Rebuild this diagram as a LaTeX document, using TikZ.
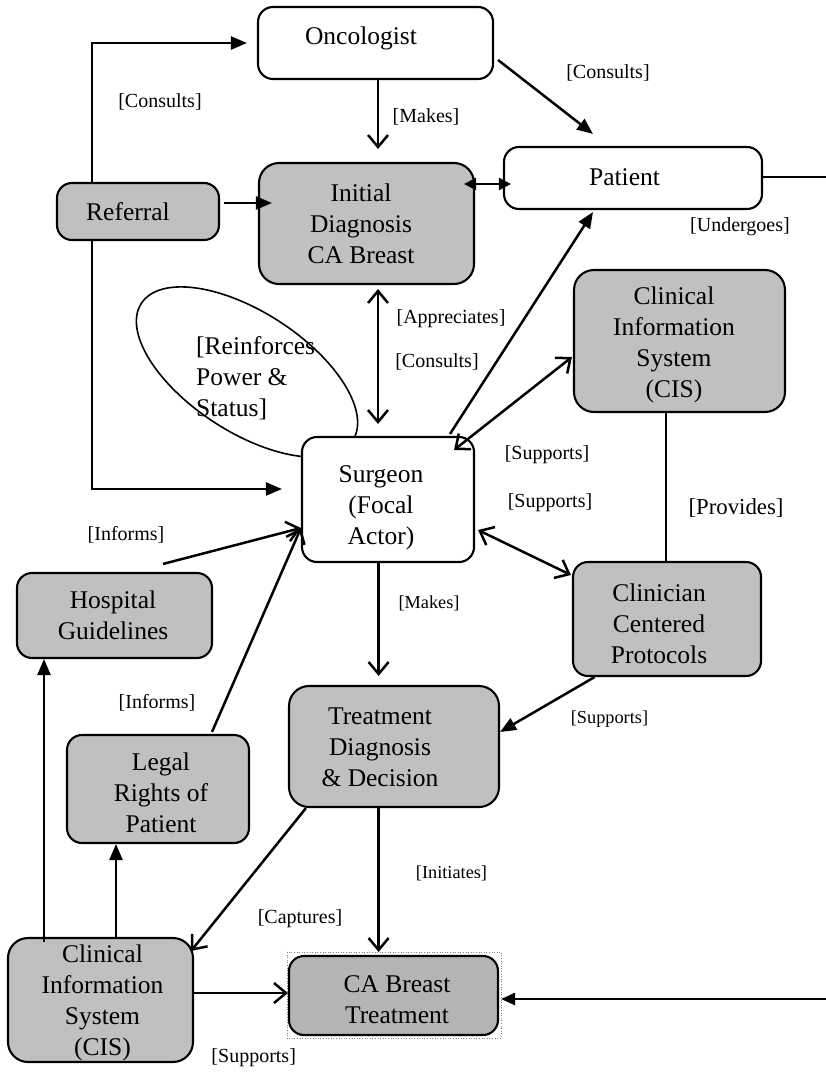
\documentclass[tikz,border=0pt]{standalone}
\usepackage{fontspec}
\setmainfont{Liberation Serif}
\usetikzlibrary{arrows.meta,shapes.geometric}
\definecolor{boxgray}{RGB}{192,192,192}
\definecolor{cagray}{RGB}{180,180,180}
\newcommand\mynodefont{\fontsize{25.5}{31}\selectfont}
\newcommand\mylblfont{\fontsize{20}{24}\selectfont}
\newcommand\mysmallfont{\fontsize{18.3}{22}\selectfont}
\begin{document}
\begin{tikzpicture}[x=1pt,y=-1pt,
  box/.style={draw, line width=2.1pt, rounded corners=15pt, inner sep=0pt, fill=white},
  gbox/.style={box, fill=boxgray},
  txt/.style={align=center, font=\mynodefont, inner sep=0pt},
  lbl/.style={font=\mylblfont, inner sep=0pt},
  slbl/.style={font=\mysmallfont, inner sep=0pt},
  conn/.style={line width=2.5pt},
  fa/.style={conn, -{Triangle[length=16pt,width=13pt]}},
  oa/.style={conn, -{Straight Barb[length=12pt,width=20pt]}},
  doa/.style={conn, {Straight Barb[length=12pt,width=20pt]}-{Straight Barb[length=12pt,width=20pt]}},
  dfa/.style={conn, {Triangle[length=12pt,width=12pt]}-{Triangle[length=12pt,width=12pt]}}]
\useasboundingbox (0,0) rectangle (826,1073);
\clip (0,0) rectangle (826,1073);
\fill[white] (0,0) rectangle (826,1073);

% ellipse (behind surgeon)
\node[draw, ellipse, line width=1.6pt, rotate=-33, minimum width=252pt, minimum height=120pt, inner sep=0pt] (ell) at (247,372) {};
\node[txt, align=left, anchor=west] (ell-t) at (196,378) {[Reinforces\\Power \&\\Status]};

% boxes
\node[box, minimum width=235pt, minimum height=72pt] (onc) at (375.5,43) {};
\node[box, minimum width=258pt, minimum height=62pt] (pat) at (633,178) {};
\node[gbox, rounded corners=20pt, minimum width=215pt, minimum height=121pt] (init) at (366.5,223.5) {};
\node[gbox, minimum width=162pt, minimum height=57pt] (ref) at (138,211.5) {};
\node[gbox, rounded corners=20pt, minimum width=211pt, minimum height=142pt] (cis1) at (679.5,341) {};
\node[box, minimum width=172pt, minimum height=125pt] (surg) at (388,499.5) {};
\node[gbox, minimum width=188pt, minimum height=114pt] (clin) at (667,619) {};
\node[gbox, minimum width=195pt, minimum height=85pt] (hosp) at (114.5,615.5) {};
\node[gbox, minimum width=182pt, minimum height=108pt] (legal) at (158,789) {};
\node[gbox, rounded corners=20pt, minimum width=210pt, minimum height=121pt] (treat) at (394,746.5) {};
\node[gbox, rounded corners=20pt, minimum width=185pt, minimum height=124pt] (cis2) at (100.5,1000) {};
\node[box, fill=cagray, minimum width=209pt, minimum height=79pt] (ca) at (393.5,995.5) {};
\draw[gray, dotted, line width=0.6pt] ([xshift=-1pt,yshift=3pt]ca.north west) rectangle ([xshift=2pt,yshift=-2pt]ca.south east);

% texts
\node[txt] (onc-t) at (361,38) {Oncologist};
\node[txt] (pat-t) at (624.5,177) {Patient};
\node[txt] (init-t) at (361,224) {Initial\\Diagnosis\\CA Breast};
\node[txt] (ref-t) at (128,212) {Referral};
\node[txt] (cis1-t) at (674,344.5) {Clinical\\Information\\System\\(CIS)};
\node[txt] (surg-t) at (381,507.5) {Surgeon\\(Focal\\Actor)};
\node[txt] (clin-t) at (659,624) {Clinician\\Centered\\Protocols};
\node[txt] (hosp-t) at (113,615.5) {Hospital\\Guidelines};
\node[txt] (legal-t) at (161,793) {Legal\\Rights of\\Patient};
\node[txt] (treat-t) at (380,747.5) {Treatment\\Diagnosis\\\& Decision};
\node[txt] (cis2-t) at (102.5,1002.5) {Clinical\\Information\\System\\(CIS)};
\node[txt] (ca-t) at (397,1000) {CA Breast\\Treatment};

% connectors
\draw[fa] ([xshift=-46pt]ref.north) |- ([xshift=-10pt]onc.west);
\draw[fa] ([xshift=-46pt]ref.south) |- ([xshift=-19pt,yshift=10.5pt]surg.west);
\draw[fa] ([xshift=4pt,yshift=8.5pt]ref.east) -- ([xshift=14pt,yshift=20.5pt]init.west);
\draw[oa] ([xshift=2.5pt]onc.south) -- ([xshift=11.5pt,yshift=13pt]init.north);
\draw[fa] ([xshift=4pt,yshift=-17pt]onc.east) -- ([xshift=-40pt,yshift=12pt]pat.north);
\draw[dfa] ([xshift=-11pt,yshift=39.5pt]init.east) -- ([xshift=8pt,yshift=-6pt]pat.west);
\coordinate (r1) at (840,177);
\coordinate (r2) at (840,999);
\draw[conn, -{Triangle[length=14pt,width=12pt]}] ([yshift=1pt]pat.east) -- (r1) -- (r2) -- ([xshift=2pt,yshift=-3.5pt]ca.east);
\draw[doa] ([xshift=11.5pt,yshift=-4pt]init.south) -- ([xshift=-10pt,yshift=12pt]surg.north);
\draw[fa] ([xshift=62pt,yshift=2pt]surg.north) -- ([xshift=-40pt,yshift=-2pt]pat.south);
\draw[doa] ([xshift=-21pt,yshift=-14pt]surg.north east) -- ([xshift=-1pt,yshift=-16pt]cis1.west);
\draw[line width=1.9pt] ([xshift=-13.5pt]cis1.south) -- ([xshift=-1pt]clin.north);
\draw[doa] ([xshift=3pt,yshift=-30.5pt]surg.east) -- ([xshift=-1pt,yshift=44pt]clin.west);
\draw[oa] ([xshift=-9.4pt]surg.south) -- ([xshift=-15.4pt,yshift=9pt]treat.north);
\draw[fa] ([xshift=-72.4pt]clin.south) -- ([yshift=14.5pt]treat.east);
\draw[oa] ([xshift=-15.4pt]treat.south) -- ([xshift=-14.9pt,yshift=3pt]ca.north);
\draw[oa] ([xshift=48.5pt,yshift=8pt]hosp.north) -- ([yshift=-28.5pt]surg.west);
\draw[oa] ([xshift=54pt,yshift=2pt]legal.north) -- ([yshift=-28.5pt]surg.west);
\draw[fa] ([xshift=-56.5pt,yshift=-5pt]cis2.north) -- ([xshift=-70.5pt]hosp.south);
\draw[fa] ([xshift=15.5pt]cis2.north) -- ([xshift=-42pt]legal.south);
\draw[oa] ([xshift=18pt]treat.south west) -- ([xshift=-3pt,yshift=-14pt]cis2.north east);
\draw[oa] ([yshift=7pt]cis2.east) -- ([yshift=2.5pt]ca.west);

% labels
\node[lbl] (l1) at (160,102) {[Consults]};
\node[lbl] (l2) at (426,117) {[Makes]};
\node[lbl] (l3) at (608,73) {[Consults]};
\node[lbl] (l4) at (740,227) {[Undergoes]};
\node[lbl] (l5) at (451,319) {[Appreciates]};
\node[lbl] (l6) at (437,362) {[Consults]};
\node[lbl] (l7) at (547,455) {[Supports]};
\node[lbl] (l8) at (550,503) {[Supports]};
\node[font=\fontsize{22.8}{27}\selectfont, inner sep=0pt] (l9) at (736,508) {[Provides]};
\node[lbl] (l10) at (126,535) {[Informs]};
\node[slbl] (l11) at (429,603) {[Makes]};
\node[lbl] (l12) at (157,703) {[Informs]};
\node[slbl] (l13) at (609.5,719) {[Supports]};
\node[slbl] (l14) at (451.5,873) {[Initiates]};
\node[lbl] (l15) at (300,919) {[Captures]};
\node[lbl] (l16) at (253.7,1058) {[Supports]};
\end{tikzpicture}
\end{document}
